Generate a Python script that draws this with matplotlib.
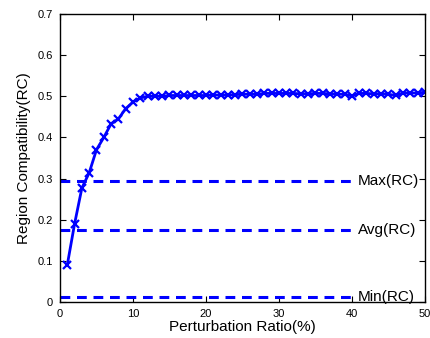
import matplotlib
matplotlib.use("Agg")
import matplotlib.pyplot as plt

plt.rcParams['font.family'] = ['Liberation Sans', 'DejaVu Sans']

ratio = list(range(1, 51))
rc = [0.09, 0.19, 0.277, 0.314, 0.37, 0.40, 0.433, 0.445, 0.47, 0.486,
      0.496, 0.500, 0.500, 0.500, 0.502, 0.502, 0.502, 0.502, 0.502, 0.502,
      0.503, 0.503, 0.503, 0.504, 0.505, 0.505, 0.505, 0.507, 0.507, 0.507,
      0.507, 0.507, 0.506, 0.506, 0.507, 0.507, 0.506, 0.505, 0.505, 0.501,
      0.507, 0.507, 0.506, 0.506, 0.505, 0.502, 0.508, 0.508, 0.508, 0.510]
ref_names = ["Max(RC)", "Avg(RC)", "Min(RC)"]
ref_values = [0.293, 0.175, 0.011]
ref_end = 40

fig = plt.figure(figsize=(4.3, 3.38), dpi=100)
ax = fig.add_axes([0.1395, 0.1065, 0.8485, 0.852])
blue = (0, 0, 1)
ax.plot(ratio, rc, color=blue, lw=2, marker='x', ms=6, mew=1.6)
for name, v in zip(ref_names, ref_values):
    ax.plot([0, ref_end], [v, v], color=blue, lw=2.2, linestyle=(0, (3.2, 2.2)))
    ax.text(ref_end + 0.8, v, name, fontsize=11, va='center', ha='left')

ax.set_xlim(0, 50)
ax.set_ylim(0, 0.7)
ax.set_xticks(range(0, 51, 10))
ax.set_yticks([0, 0.1, 0.2, 0.3, 0.4, 0.5, 0.6, 0.7])
ax.set_yticklabels(['0', '0.1', '0.2', '0.3', '0.4', '0.5', '0.6', '0.7'])
ax.tick_params(direction='in', top=True, right=True, labelsize=8, length=4, pad=5)
ax.set_xlabel('Perturbation Ratio(%)', fontsize=11, labelpad=1)
ax.set_ylabel('Region Compatibility(RC)', fontsize=11, labelpad=5)
for s in ax.spines.values():
    s.set_linewidth(1)
fig.savefig('out.png', dpi=100)
